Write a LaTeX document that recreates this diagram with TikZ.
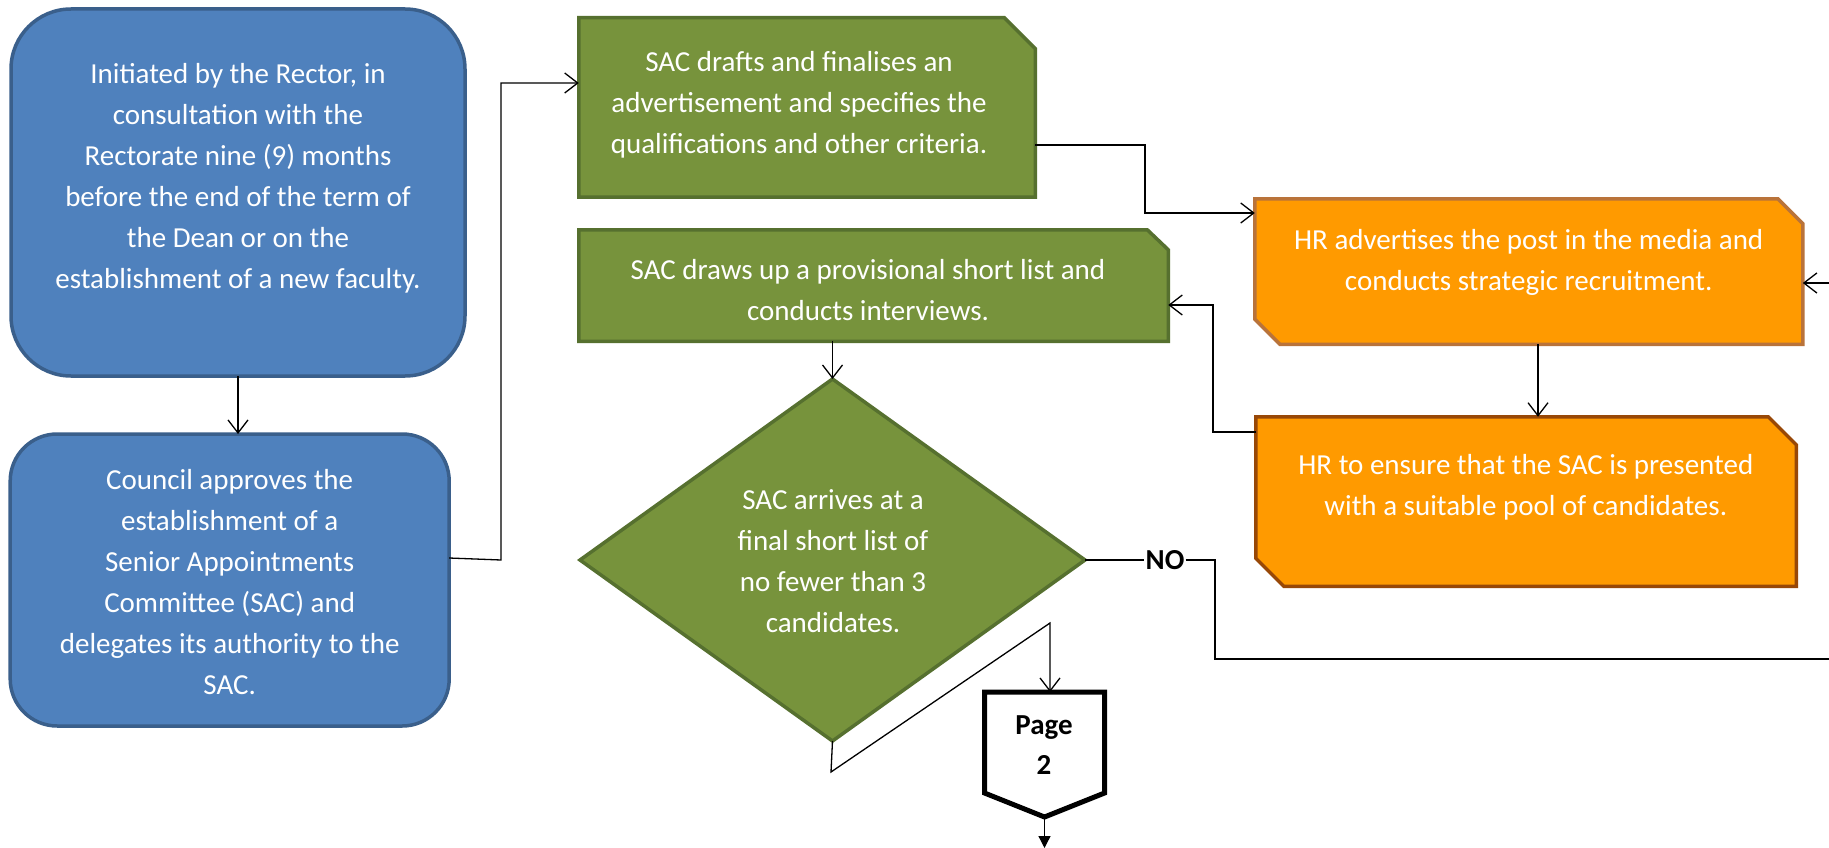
\documentclass[tikz,border=0pt]{standalone}
\usepackage{fontspec}
\setmainfont{Carlito}
\usetikzlibrary{arrows.meta,shapes.geometric}
\definecolor{blueF}{HTML}{4F81BD}
\definecolor{blueD}{HTML}{3A5F8B}
\definecolor{greenF}{HTML}{77933C}
\definecolor{greenD}{HTML}{56702F}
\definecolor{orangeF}{HTML}{FF9A00}
\definecolor{orangeDa}{HTML}{B9733A}
\definecolor{orangeDb}{HTML}{984807}
\begin{document}
\begin{tikzpicture}[x=1pt,y=-1pt,
  shapebox/.style={inner sep=0pt, outer sep=0pt},
  rblue/.style={shapebox, rectangle, fill=blueF, draw=blueD, line width=3.5pt},
  gline/.style={fill=greenF, draw=greenD, line width=3.5pt, line join=miter},
  oline/.style={fill=orangeF, line width=3.5pt, line join=miter},
  txt/.style={text=white, align=center, inner sep=0pt, font=\fontsize{29}{41}\selectfont},
  btxt/.style={text=black, align=center, inner sep=0pt, font=\bfseries\fontsize{29}{40}\selectfont},
  conn/.style={line width=1.3pt, -{Straight Barb[length=13pt,width=20pt]}},
  plainline/.style={line width=1.3pt},
]
\useasboundingbox (0,0) rectangle (1829,848);
\fill[white] (0,0) rectangle (1829,848);
\clip (0,0) rectangle (1829,848);

% blue rounded boxes
\node[rblue, rounded corners=60pt, minimum width=454pt, minimum height=367pt] (A) at (238,192.5) {};
\node[txt] (At) at (238,178.5) {Initiated by the Rector, in\\consultation with the\\Rectorate nine (9) months\\before the end of the term of\\the Dean or on the\\establishment of a new faculty.};

\node[rblue, rounded corners=47pt, minimum width=439pt, minimum height=292pt] (B) at (229.7,580) {};
\node[txt] (Bt) at (229.7,582.5) {Council approves the\\establishment of a\\Senior Appointments\\Committee (SAC) and\\delegates its authority to the\\SAC.};

% green chamfered boxes
\node[shapebox, minimum width=456.5pt, minimum height=179.5pt] (C) at (807,107.4) {};
\draw[gline] (C.north west) -- ([xshift=-31pt]C.north east) -- ([yshift=-31pt]C.north east) -- (C.south east) -- (C.south west) -- cycle;
\node[txt] (Ct) at (799,105) {SAC drafts and finalises an\\advertisement and specifies the\\qualifications and other criteria.};

\node[shapebox, minimum width=589.5pt, minimum height=111.5pt] (F) at (873.5,285.5) {};
\draw[gline] (F.north west) -- ([xshift=-21pt]F.north east) -- ([yshift=-20pt]F.north east) -- (F.south east) -- (F.south west) -- cycle;
\node[txt] (Ft) at (868,290) {SAC draws up a provisional short list and\\conducts interviews.};

% orange boxes
\node[shapebox, minimum width=548pt, minimum height=145.5pt] (D) at (1528.8,271.5) {};
\draw[oline, draw=orangeDa] (D.north west) -- ([xshift=-25pt]D.north east) -- ([yshift=-25pt]D.north east) -- (D.south east) -- ([xshift=25pt]D.south west) -- ([yshift=25pt]D.south west) -- cycle;
\node[txt] (Dt) at (1528.7,262.5) {HR advertises the post in the media and\\conducts strategic recruitment.};

\node[shapebox, minimum width=540.5pt, minimum height=169.5pt] (E) at (1526,501.5) {};
\draw[oline, draw=orangeDb] (E.north west) -- ([xshift=-28pt]E.north east) -- ([yshift=-28pt]E.north east) -- (E.south east) -- ([xshift=28pt]E.south west) -- ([yshift=28pt]E.south west) -- cycle;
\node[txt] (Et) at (1525.8,487) {HR to ensure that the SAC is presented\\with a suitable pool of candidates.};

% decision diamond
\node[diamond, shapebox, fill=greenF, draw=greenD, line width=3.5pt, minimum width=505pt, minimum height=362pt] (G) at (832.5,560) {};
\node[txt] (Gt) at (833,561.5) {SAC arrives at a\\final short list of\\no fewer than 3\\candidates.};

% off-page connector
\node[shapebox, minimum width=120pt, minimum height=125pt] (P) at (1044.5,754.5) {};
\draw[fill=white, line width=5pt, line join=miter] (P.north west) -- (P.north east) -- ([yshift=24pt]P.south east) -- (P.south) -- ([yshift=24pt]P.south west) -- cycle;
\node[btxt] (Pt) at (1044,745) {Page\\2};

\node[btxt, inner sep=1pt] (NO) at (1165,560) {NO};

% connectors
\coordinate (b1) at (501,560);
\coordinate (b2) at (501,83);
\draw[conn] ([yshift=22pt]B.east) -- (b1) -- (b2) -- (C.west |- b2);

\coordinate (c1) at (1145,145);
\coordinate (c2) at (1145,213);
\draw[conn] (C.east |- c1) -- (c1) -- (c2) -- (D.west |- c2);

\coordinate (d1) at (1538,346);
\draw[conn] (D.south -| d1) -- (E.north -| d1);

\coordinate (e1) at (1213,432);
\coordinate (e2) at (1213,305);
\draw[conn] (E.west |- e1) -- (e1) -- (e2) -- (F.east |- e2);

\draw[conn] (A.south) -- (A.south |- B.north);

\draw[conn] (F.south -| G.north) -- (G.north);

\draw[plainline] (G.east) -- (NO.west);
\coordinate (n1) at (1215,560);
\coordinate (n2) at (1215,659);
\coordinate (n3) at (1900,659);
\coordinate (n4) at (1900,283);
\draw[conn] (NO.east) -- (n1) -- (n2) -- (n3) -- (n4) -- (D.east |- n4);

\coordinate (g1) at (831,772);
\coordinate (g2) at (1050,623);
\draw[conn] (G.south) -- (g1) -- (g2) -- (P.north -| g2);

\coordinate (pend) at (1044.5,848);
\draw[line width=1.3pt, -{Triangle[length=12pt,width=12pt]}] (P.south) -- (pend);
\end{tikzpicture}
\end{document}
